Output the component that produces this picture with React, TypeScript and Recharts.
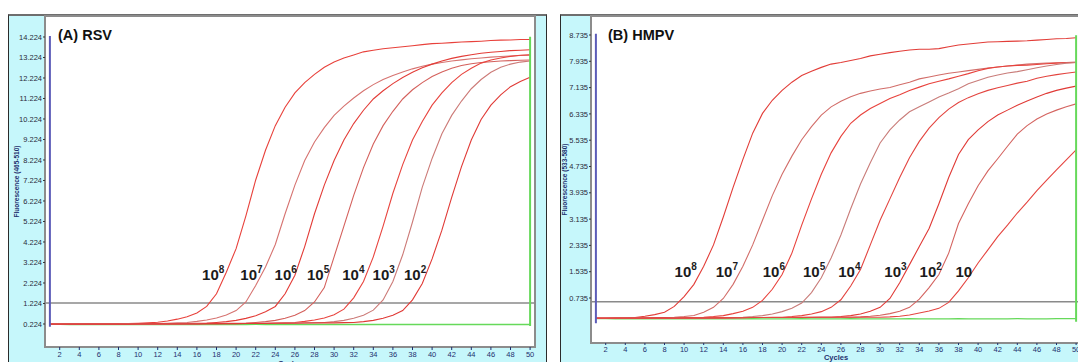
import { LineChart, Line, XAxis, YAxis, ReferenceLine, ReferenceDot } from 'recharts'

const cycles = [
  1, 2, 3, 4, 5, 6, 7, 8, 9, 10, 11, 12, 13, 14, 15, 16, 17, 18, 19, 20, 21, 22, 23, 24, 25,
  26, 27, 28, 29, 30, 31, 32, 33, 34, 35, 36, 37, 38, 39, 40, 41, 42, 43, 44, 45, 46, 47, 48, 49, 50,
]
const xTicks = [2, 4, 6, 8, 10, 12, 14, 16, 18, 20, 22, 24, 26, 28, 30, 32, 34, 36, 38, 40, 42, 44, 46, 48, 50]

// (A) RSV, fluorescence 465-510
const rsvYTicks = [0.224, 1.224, 2.224, 3.224, 4.224, 5.224, 6.224, 7.224, 8.224, 9.224, 10.224, 11.224, 12.224, 13.224, 14.224]
const rsv10e8 = [
  0.22, 0.22, 0.23, 0.22, 0.23, 0.23, 0.24, 0.24, 0.25, 0.26,
  0.28, 0.31, 0.37, 0.46, 0.58, 0.76, 1.08, 1.7, 2.75, 3.9,
  5.5, 7.25, 8.7, 9.9, 10.8, 11.5, 12.0, 12.4, 12.75, 13.0,
  13.2, 13.35, 13.5, 13.58, 13.65, 13.7, 13.75, 13.8, 13.85, 13.9,
  13.92, 13.95, 13.98, 14.0, 14.02, 14.05, 14.07, 14.08, 14.1, 14.1,
]
const rsv10e7 = [
  0.22, 0.22, 0.22, 0.23, 0.22, 0.23, 0.23, 0.23, 0.24, 0.24,
  0.24, 0.25, 0.26, 0.28, 0.3, 0.35, 0.42, 0.52, 0.66, 0.88,
  1.3, 2.1, 3.0, 4.1, 5.6, 7.0, 8.2, 9.1, 9.8, 10.4,
  10.85, 11.25, 11.6, 11.9, 12.15, 12.35, 12.52, 12.67, 12.8, 12.9,
  12.98, 13.05, 13.11, 13.16, 13.2, 13.24, 13.27, 13.3, 13.32, 13.34,
]
const rsv10e6 = [
  0.22, 0.22, 0.22, 0.22, 0.23, 0.22, 0.23, 0.23, 0.23, 0.23,
  0.24, 0.24, 0.24, 0.25, 0.25, 0.26, 0.27, 0.3, 0.34, 0.4,
  0.5, 0.63, 0.82, 1.08, 1.7, 2.6, 4.0, 5.6, 7.0, 8.2,
  9.2, 10.0, 10.65, 11.2, 11.6, 11.95, 12.25, 12.5, 12.72, 12.9,
  13.05, 13.18, 13.28, 13.36, 13.43, 13.48, 13.52, 13.56, 13.58, 13.6,
]
const rsv10e5 = [
  0.22, 0.22, 0.22, 0.22, 0.22, 0.22, 0.23, 0.23, 0.23, 0.23,
  0.23, 0.23, 0.24, 0.24, 0.24, 0.24, 0.25, 0.25, 0.26, 0.26,
  0.27, 0.3, 0.34, 0.4, 0.5, 0.65, 0.88, 1.3, 2.0, 3.5,
  5.0, 6.5, 7.85, 9.0, 9.9, 10.6, 11.2, 11.65, 12.0, 12.3,
  12.52, 12.7, 12.83, 12.92, 12.98, 13.02, 13.05, 13.07, 13.09, 13.1,
]
const rsv10e4 = [
  0.22, 0.22, 0.22, 0.22, 0.22, 0.22, 0.22, 0.23, 0.23, 0.23,
  0.23, 0.23, 0.23, 0.23, 0.24, 0.24, 0.24, 0.24, 0.25, 0.25,
  0.25, 0.26, 0.26, 0.27, 0.28, 0.3, 0.35, 0.42, 0.52, 0.68,
  0.95, 1.5, 2.3, 3.5, 5.0, 6.6, 8.0, 9.2, 10.1, 10.9,
  11.5, 12.0, 12.4, 12.7, 12.95, 13.1, 13.2, 13.28, 13.33, 13.36,
]
const rsv10e3 = [
  0.22, 0.22, 0.22, 0.22, 0.22, 0.22, 0.22, 0.22, 0.23, 0.23,
  0.23, 0.23, 0.23, 0.23, 0.23, 0.24, 0.24, 0.24, 0.24, 0.24,
  0.25, 0.25, 0.26, 0.26, 0.27, 0.27, 0.28, 0.29, 0.3, 0.34,
  0.4, 0.5, 0.65, 0.9, 1.4, 2.3, 3.6, 5.2, 6.9, 8.3,
  9.5, 10.4, 11.1, 11.7, 12.15, 12.5, 12.75, 12.9, 13.0, 13.05,
]
const rsv10e2 = [
  0.22, 0.22, 0.22, 0.22, 0.22, 0.22, 0.22, 0.22, 0.22, 0.23,
  0.23, 0.23, 0.23, 0.23, 0.23, 0.23, 0.24, 0.24, 0.24, 0.24,
  0.25, 0.25, 0.25, 0.26, 0.26, 0.26, 0.27, 0.27, 0.28, 0.28,
  0.29, 0.3, 0.34, 0.4, 0.5, 0.65, 0.88, 1.4, 2.2, 3.4,
  4.8, 6.4, 7.9, 9.2, 10.2, 10.9, 11.4, 11.8, 12.05, 12.26,
]
const rsvNegative = [
  0.21, 0.21, 0.2, 0.21, 0.2, 0.2, 0.21, 0.2, 0.2, 0.21,
  0.2, 0.2, 0.21, 0.2, 0.2, 0.2, 0.21, 0.2, 0.2, 0.2,
  0.2, 0.21, 0.2, 0.2, 0.2, 0.2, 0.21, 0.2, 0.2, 0.2,
  0.2, 0.2, 0.21, 0.2, 0.2, 0.2, 0.2, 0.21, 0.2, 0.2,
  0.2, 0.2, 0.2, 0.21, 0.2, 0.2, 0.2, 0.2, 0.2, 0.2,
]
const rsvCurves = [rsv10e8, rsv10e7, rsv10e6, rsv10e5, rsv10e4, rsv10e3, rsv10e2]
const rsvExponents = ['8', '7', '6', '5', '4', '3', '2']
const rsvLabelCycles = [18.8, 22.7, 26.2, 29.5, 33.1, 36.2, 39.4]

// (B) HMPV, fluorescence 533-580
const hmpvYTicks = [0.735, 1.535, 2.335, 3.135, 3.935, 4.735, 5.535, 6.335, 7.135, 7.935, 8.735]
const hmpv10e8 = [
  0.12, 0.12, 0.13, 0.13, 0.14, 0.18, 0.23, 0.3, 0.48, 0.78,
  1.15, 1.7, 2.35, 3.2, 4.1, 4.95, 5.75, 6.35, 6.75, 7.05,
  7.3, 7.5, 7.63, 7.75, 7.85, 7.9, 7.96, 8.02, 8.1, 8.15,
  8.2, 8.24, 8.28, 8.3, 8.3, 8.32, 8.38, 8.43, 8.46, 8.49,
  8.52, 8.53, 8.54, 8.55, 8.56, 8.58, 8.6, 8.62, 8.63, 8.65,
]
const hmpv10e7 = [
  0.12, 0.12, 0.12, 0.13, 0.13, 0.13, 0.14, 0.14, 0.15, 0.17,
  0.2, 0.3, 0.45, 0.72, 1.15, 1.7, 2.35, 3.1, 3.85, 4.5,
  5.05, 5.55, 5.95, 6.3, 6.55, 6.72, 6.86, 6.96, 7.03, 7.09,
  7.14, 7.22, 7.3, 7.4, 7.46, 7.52, 7.57, 7.61, 7.65, 7.69,
  7.73, 7.76, 7.79, 7.82, 7.85, 7.87, 7.88, 7.89, 7.9, 7.91,
]
const hmpv10e6 = [
  0.12, 0.12, 0.12, 0.12, 0.13, 0.13, 0.13, 0.13, 0.14, 0.14,
  0.14, 0.15, 0.17, 0.2, 0.26, 0.33, 0.45, 0.66, 1.0, 1.45,
  2.1, 2.95, 3.75, 4.5, 5.15, 5.65, 6.05, 6.3, 6.5, 6.65,
  6.8, 6.92, 7.05, 7.15, 7.25, 7.33, 7.4, 7.48, 7.56, 7.65,
  7.72, 7.76, 7.79, 7.81, 7.82, 7.84, 7.86, 7.88, 7.89, 7.9,
]
const hmpv10e5 = [
  0.12, 0.12, 0.12, 0.12, 0.12, 0.13, 0.13, 0.13, 0.13, 0.13,
  0.14, 0.14, 0.14, 0.14, 0.14, 0.15, 0.17, 0.2, 0.25, 0.32,
  0.42, 0.58, 0.9, 1.35, 1.95, 2.65, 3.45, 4.2, 4.85, 5.45,
  5.85, 6.15, 6.4, 6.55, 6.7, 6.85, 6.97, 7.1, 7.25, 7.35,
  7.45, 7.52, 7.58, 7.62, 7.68, 7.74, 7.79, 7.84, 7.88, 7.9,
]
const hmpv10e4 = [
  0.12, 0.12, 0.12, 0.12, 0.12, 0.12, 0.13, 0.13, 0.13, 0.13,
  0.13, 0.13, 0.14, 0.14, 0.14, 0.14, 0.14, 0.14, 0.15, 0.15,
  0.17, 0.2, 0.25, 0.32, 0.45, 0.68, 1.1, 1.6, 2.35, 3.1,
  3.75, 4.4, 5.0, 5.5, 5.9, 6.22, 6.48, 6.68, 6.83, 6.95,
  7.05, 7.13, 7.2, 7.27, 7.33, 7.42, 7.48, 7.53, 7.57, 7.61,
]
const hmpv10e3 = [
  0.12, 0.12, 0.12, 0.12, 0.12, 0.12, 0.12, 0.13, 0.13, 0.13,
  0.13, 0.13, 0.13, 0.13, 0.14, 0.14, 0.14, 0.14, 0.14, 0.14,
  0.14, 0.15, 0.15, 0.15, 0.15, 0.17, 0.2, 0.25, 0.33, 0.45,
  0.72, 1.2, 1.75, 2.3, 2.85, 3.6, 4.4, 5.1, 5.55, 5.85,
  6.1, 6.3, 6.45, 6.6, 6.73, 6.85, 6.96, 7.05, 7.12, 7.18,
]
const hmpv10e2 = [
  0.12, 0.12, 0.12, 0.12, 0.12, 0.12, 0.12, 0.12, 0.13, 0.13,
  0.13, 0.13, 0.13, 0.13, 0.13, 0.14, 0.14, 0.14, 0.14, 0.14,
  0.14, 0.14, 0.15, 0.15, 0.15, 0.15, 0.15, 0.16, 0.18, 0.21,
  0.26, 0.33, 0.45, 0.7, 1.05, 1.45, 2.1, 3.0, 3.6, 4.15,
  4.6, 4.97, 5.35, 5.72, 5.98, 6.18, 6.33, 6.45, 6.55, 6.64,
]
const hmpv10e1 = [
  0.12, 0.12, 0.12, 0.12, 0.12, 0.12, 0.12, 0.12, 0.12, 0.13,
  0.13, 0.13, 0.13, 0.13, 0.13, 0.13, 0.14, 0.14, 0.14, 0.14,
  0.14, 0.14, 0.14, 0.15, 0.15, 0.15, 0.15, 0.15, 0.15, 0.15,
  0.16, 0.18, 0.22, 0.28, 0.34, 0.42, 0.6, 0.95, 1.35, 1.8,
  2.2, 2.6, 2.95, 3.32, 3.65, 4.0, 4.32, 4.63, 4.94, 5.24,
]
const hmpvNegative = [
  0.11, 0.11, 0.1, 0.11, 0.1, 0.1, 0.11, 0.1, 0.1, 0.11,
  0.1, 0.1, 0.11, 0.1, 0.1, 0.1, 0.11, 0.1, 0.1, 0.1,
  0.1, 0.11, 0.1, 0.1, 0.1, 0.1, 0.11, 0.1, 0.1, 0.1,
  0.1, 0.1, 0.11, 0.1, 0.1, 0.1, 0.1, 0.11, 0.1, 0.1,
  0.1, 0.1, 0.1, 0.11, 0.1, 0.1, 0.1, 0.11, 0.11, 0.11,
]
const hmpvCurves = [hmpv10e8, hmpv10e7, hmpv10e6, hmpv10e5, hmpv10e4, hmpv10e3, hmpv10e2, hmpv10e1]
const hmpvExponents = ['8', '7', '6', '5', '4', '3', '2', '']
const hmpvLabelCycles = [11.3, 15.5, 20.3, 24.4, 28.0, 32.7, 36.3, 39.4]

const CYAN = '#c6f7fb'
const NAVY = '#1e2f6e'
const GREEN = '#66d95a'
const Y_AXIS_W = 45
const CHART_W = 560
const CHART_H = 380

const buildRows = (curves: number[][], negative: number[]) =>
  cycles.map((cycle, i) => {
    const row: Record<string, number> = { cycle, neg: negative[i] }
    curves.forEach((c, k) => {
      row[`s${k}`] = c[i]
    })
    return row
  })

interface PanelConfig {
  title: string
  titleLeft: number
  frameLeft: number
  frameWidth: number
  chartLeft: number
  plotBottom: number
  yLabel: string
  yLabelOffset: number
  yTicks: number[]
  yDomain: [number, number]
  threshold: number
  vFrom: number
  vTo: number
  curves: number[][]
  negative: number[]
  colors: string[]
  exponents: string[]
  labelCycles: number[]
  labelValue: number
  xTickSize: number
  cyclesOffset: number
}

const Panel = ({ p }: { p: PanelConfig }) => {
  const rows = buildRows(p.curves, p.negative)
  const plotLeft = p.chartLeft + Y_AXIS_W
  return (
    <>
      <div
        style={{
          position: 'absolute', left: p.frameLeft, top: 14, width: p.frameWidth, height: 360,
          boxSizing: 'border-box', background: CYAN,
          borderTop: '2px solid #6e6e6e', borderLeft: '1px solid #2b2b2b', borderRight: '1px solid #2b2b2b',
        }}
      />
      <div
        style={{
          position: 'absolute', left: plotLeft - 1, top: 15, width: 492, height: p.plotBottom - 14,
          boxSizing: 'border-box', background: '#fff', border: '2px solid #8c8c8c',
        }}
      />
      <div style={{ position: 'absolute', left: p.chartLeft, top: 0 }}>
        <LineChart
          width={CHART_W}
          height={CHART_H}
          data={rows}
          margin={{ top: 16, right: CHART_W - Y_AXIS_W - 490, bottom: CHART_H - 20 - p.plotBottom, left: 0 }}
        >
          <XAxis
            dataKey="cycle"
            type="number"
            domain={[0.5, 50.5]}
            ticks={xTicks}
            interval={0}
            allowDataOverflow
            height={20}
            axisLine={false}
            tickSize={p.xTickSize}
            tickMargin={2}
            tickLine={{ stroke: NAVY }}
            tick={{ fontSize: 7.5, fill: NAVY }}
            label={{ value: 'Cycles', position: 'insideBottom', offset: p.cyclesOffset, fontSize: 7.5, fontWeight: 'bold', fill: NAVY }}
          />
          <YAxis
            type="number"
            domain={p.yDomain}
            ticks={p.yTicks}
            interval={0}
            allowDataOverflow
            width={Y_AXIS_W}
            axisLine={false}
            tickSize={2}
            tickMargin={1}
            tickLine={{ stroke: '#333' }}
            tickFormatter={(v: number) => v.toFixed(3)}
            tick={{ fontSize: 7.5, fill: '#2a2a3a' }}
            label={{
              value: p.yLabel, angle: -90, position: 'insideLeft', offset: p.yLabelOffset,
              fontSize: 6.5, fontWeight: 'bold', fill: NAVY, style: { textAnchor: 'middle' },
            }}
          />
          <ReferenceLine y={p.threshold} stroke="#8a8a8a" strokeWidth={1.5} />
          <Line dataKey="neg" stroke={GREEN} strokeWidth={1.3} dot={false} isAnimationActive={false} />
          {p.curves.map((_, k) => (
            <Line
              key={k}
              dataKey={`s${k}`}
              stroke={p.colors[k]}
              strokeWidth={1.1}
              dot={false}
              isAnimationActive={false}
            />
          ))}
          <ReferenceLine segment={[{ x: 1, y: p.vFrom }, { x: 1, y: p.vTo }]} stroke="#5c5cb8" strokeWidth={2} />
          <ReferenceLine segment={[{ x: 50, y: p.vFrom + 0.04 }, { x: 50, y: p.vTo - 0.04 }]} stroke={GREEN} strokeWidth={2} />
          {p.exponents.map((e, k) => (
            <ReferenceDot
              key={`lab${k}`}
              x={p.labelCycles[k]}
              y={p.labelValue}
              r={0}
              ifOverflow="visible"
              shape={(d: any) => (
                <text x={d.cx} y={d.cy} textAnchor="end" fontSize={15} fontWeight="bold" fill="#1b1b1b">
                  10
                  {e ? <tspan dy={-7} fontSize={10}>{e}</tspan> : null}
                </text>
              )}
            />
          ))}
        </LineChart>
      </div>
      <div
        style={{
          position: 'absolute', left: p.titleLeft, top: 28, fontSize: 14.5, fontWeight: 'bold',
          lineHeight: 1, color: '#111', whiteSpace: 'nowrap',
        }}
      >
        {p.title}
      </div>
    </>
  )
}

const rsvPanel: PanelConfig = {
  title: '(A) RSV',
  titleLeft: 58,
  frameLeft: 8,
  frameWidth: 539,
  chartLeft: 0,
  plotBottom: 347,
  yLabel: 'Fluorescence (465-510)',
  yLabelOffset: 17,
  yTicks: rsvYTicks,
  yDomain: [-0.898, 15.248],
  threshold: 1.25,
  vFrom: 0.09,
  vTo: 14.27,
  curves: rsvCurves,
  negative: rsvNegative,
  colors: ['#e8413b', '#d67370', '#e33c37', '#d4605c', '#e8443e', '#cc7a77', '#e03a36'],
  exponents: rsvExponents,
  labelCycles: rsvLabelCycles,
  labelValue: 2.37,
  xTickSize: 3,
  cyclesOffset: 1,
}

const hmpvPanel: PanelConfig = {
  title: '(B) HMPV',
  titleLeft: 608,
  frameLeft: 560,
  frameWidth: 540,
  chartLeft: 546,
  plotBottom: 343,
  yLabel: 'Fluorescence (533-580)',
  yLabelOffset: 19,
  yTicks: hmpvYTicks,
  yDomain: [-0.634, 9.313],
  threshold: 0.62,
  vFrom: -0.03,
  vTo: 8.77,
  curves: hmpvCurves,
  negative: hmpvNegative,
  colors: ['#e23d38', '#d26d69', '#e8423c', '#c97c79', '#e3443f', '#e03a36', '#d46460', '#e54540'],
  exponents: hmpvExponents,
  labelCycles: hmpvLabelCycles,
  labelValue: 1.374,
  xTickSize: 2,
  cyclesOffset: 3,
}

export default function App() {
  return (
    <div
      style={{
        position: 'absolute', left: 0, top: 0, width: 1078, height: 362, overflow: 'hidden',
        background: '#fff', fontFamily: '"Liberation Sans", Arial, sans-serif',
      }}
    >
      <Panel p={rsvPanel} />
      <Panel p={hmpvPanel} />
    </div>
  )
}
